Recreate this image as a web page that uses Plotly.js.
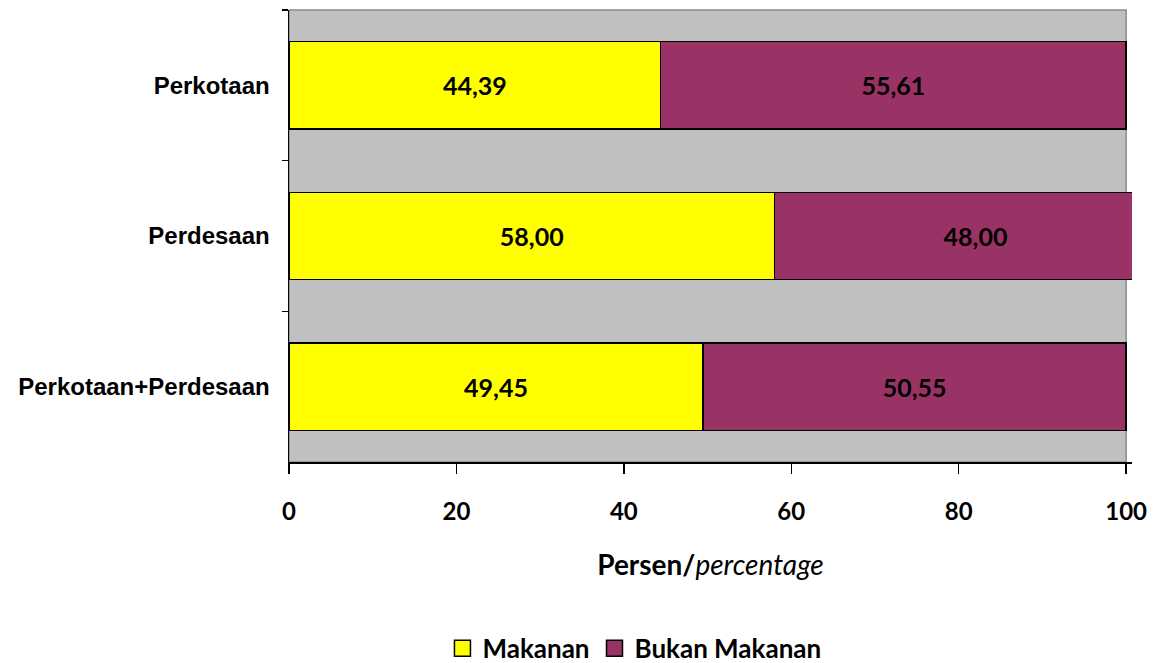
<!DOCTYPE html>
<html>
<head>
<meta charset="utf-8">
<script src="https://cdn.plot.ly/plotly-3.0.1.min.js"></script>
<style>html,body{margin:0;padding:0;background:#fff;}#chart{width:1162px;height:663px;}</style>
</head>
<body>
<div id="chart"></div>
<script>
var categories = ["Perkotaan", "Perdesaan", "Perkotaan+Perdesaan"];
var makanan = [44.39, 58.00, 49.45];
var bukanMakanan = [55.61, 48.00, 50.55];
var xTicks = [0, 20, 40, 60, 80, 100];
var seriesNames = ["Makanan", "Bukan Makanan"];
var seriesColors = ["#FFFF00", "#993366"];

function fmt(v) { return v.toFixed(2).replace('.', ','); }

var labelFont = {family: "Lato, 'Open Sans', sans-serif", size: 25, color: "#000", weight: "bold"};

var seriesValues = [makanan, bukanMakanan];
var traces = [];
seriesValues.forEach(function(vals, i) {
  traces.push({
    type: "bar", orientation: "h", name: seriesNames[i],
    y: categories, x: vals,
    text: vals.map(fmt),
    textposition: "inside", insidetextanchor: "middle", textangle: 0,
    textfont: labelFont,
    marker: {color: seriesColors[i], line: {color: "#000", width: 1.5}},
    showlegend: false,
    hoverinfo: "none"
  });
});
seriesNames.forEach(function(n, i) {
  traces.push({
    type: "scatter", mode: "markers", name: n,
    x: [null], y: [null],
    marker: {symbol: "square", size: 16, color: seriesColors[i], line: {color: "#000", width: 1.5}},
    showlegend: true, hoverinfo: "none"
  });
});

var layout = {
  width: 1162, height: 663,
  margin: {l: 289, r: 30, t: 10, b: 201},
  paper_bgcolor: "#fff",
  plot_bgcolor: "#fff",
  barmode: "stack",
  bargap: 0.42,
  showlegend: true,
  legend: {
    orientation: "h", xref: "container", yref: "container", traceorder: "normal",
    x: 0.546, xanchor: "center", y: 0.022, yanchor: "middle",
    font: {family: "Lato, 'Open Sans', sans-serif", size: 26, color: "#000", weight: "bold"},
    itemwidth: 30, tracegroupgap: 0
  },
  xaxis: {
    range: [0, 100.7],
    tickvals: xTicks,
    ticktext: xTicks.map(String),
    ticks: "outside", ticklen: 10, tickwidth: 1.5, tickcolor: "#000",
    showline: true, linecolor: "#000", linewidth: 1.5,
    showgrid: false, zeroline: false,
    ticklabelstandoff: 18,
    tickfont: {family: "Lato, 'Open Sans', sans-serif", size: 24, color: "#000", weight: "bold"},
    title: {
      text: "<b>Persen/</b><i>percentage</i>",
      font: {family: "Lato, 'Open Sans', sans-serif", size: 28, color: "#000"},
      standoff: 31
    },
    fixedrange: true
  },
  yaxis: {
    type: "category",
    categoryorder: "array", categoryarray: categories,
    autorange: "reversed",
    ticks: "outside", tickson: "boundaries", ticklen: 6, tickwidth: 1.5, tickcolor: "#000",
    showline: true, linecolor: "#000", linewidth: 1.5,
    showgrid: false, zeroline: false,
    ticklabelstandoff: 13,
    tickfont: {family: "'Liberation Sans', Arial, sans-serif", size: 24, color: "#000", weight: "bold"},
    fixedrange: true
  },
  shapes: [
    {
      type: "rect", layer: "below",
      xref: "x", yref: "paper", x0: 0, x1: 100, y0: 0, y1: 1,
      fillcolor: "#C0C0C0", line: {color: "#8c8c8c", width: 1.5}
    }
  ]
};

Plotly.newPlot("chart", traces, layout, {displayModeBar: false, staticPlot: true});
</script>
</body>
</html>
